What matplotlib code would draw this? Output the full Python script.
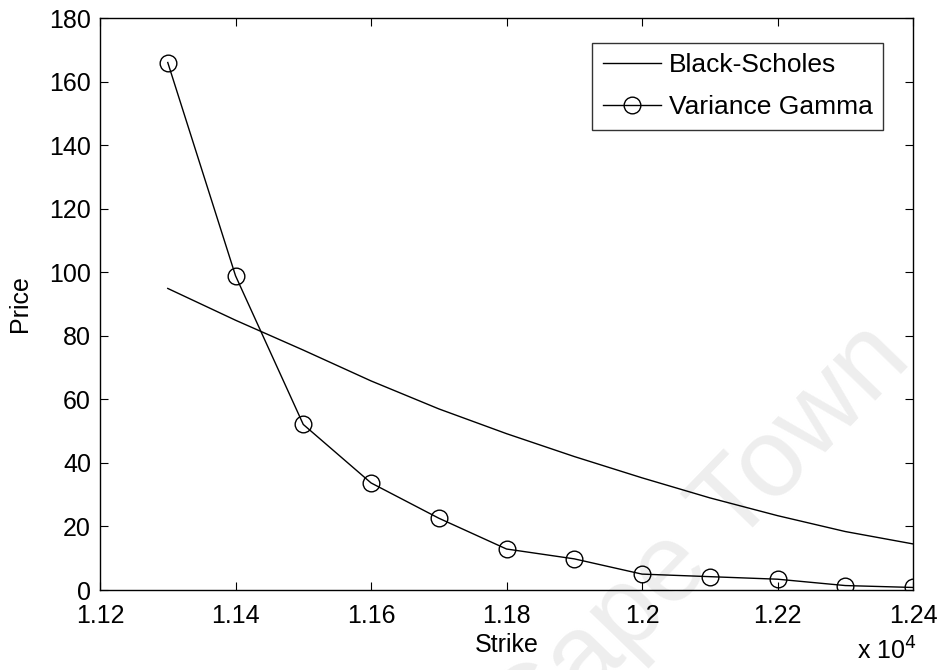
import numpy as np
import matplotlib.pyplot as plt

plt.rcParams['font.family'] = ['Liberation Sans', 'DejaVu Sans']

strike = [11300, 11400, 11500, 11600, 11700, 11800, 11900, 12000, 12100, 12200, 12300, 12400]
bs_price = [94.9, 84.9, 75.5, 65.8, 57.0, 49.2, 42.0, 35.3, 29.0, 23.4, 18.4, 14.5]
vg_price = [166.0, 98.9, 52.1, 33.7, 22.6, 12.9, 9.8, 5.0, 4.2, 3.4, 1.4, 0.8]

xticks = [11200, 11400, 11600, 11800, 12000, 12200, 12400]
xticklabels = ["1.12", "1.14", "1.16", "1.18", "1.2", "1.22", "1.24"]
yticks = [0, 20, 40, 60, 80, 100, 120, 140, 160, 180]

fig = plt.figure(figsize=(9.4, 6.7), dpi=100)
ax = fig.add_axes([0.1064, 0.1194, 0.8649, 0.8537])
ax.patch.set_alpha(0)

ax.plot(strike, bs_price, 'k-', lw=1.0, label="Black-Scholes")
ax.plot(strike, vg_price, 'k-', lw=1.0, marker='o', ms=12, mfc='none', mec='k',
        mew=1.0, label="Variance Gamma")

ax.set_xlim(11200, 12400)
ax.set_ylim(0, 180)
ax.set_xticks(xticks)
ax.set_xticklabels(xticklabels)
ax.set_yticks(yticks)
ax.tick_params(direction='in', top=True, right=True, length=6, labelsize=18)
ax.tick_params(axis='y', pad=6.5)
ax.tick_params(axis='x', pad=10)
for s in ax.spines.values():
    s.set_linewidth(1.0)

ax.set_xlabel("Strike", fontsize=18, labelpad=4)
ax.set_ylabel("Price", fontsize=18, labelpad=12)
fig.text(0.912, 0.008, "x 10$^4$", fontsize=18, ha='left', va='bottom')

leg = ax.legend(loc='upper right', bbox_to_anchor=(0.9633, 0.957), fontsize=19,
                frameon=True, fancybox=False, edgecolor='k', handlelength=2.2,
                borderaxespad=0.0, borderpad=0.4, labelspacing=0.68,
                handletextpad=0.3)
leg.get_frame().set_linewidth(1.0)

# faint watermark behind the plot
fig.text(0.972, 0.46, "University of Cape Town", fontsize=80, color='#eeeeee',
         rotation=46, rotation_mode='anchor', ha='right', va='baseline', zorder=-1)

fig.savefig("out.png", dpi=100)
